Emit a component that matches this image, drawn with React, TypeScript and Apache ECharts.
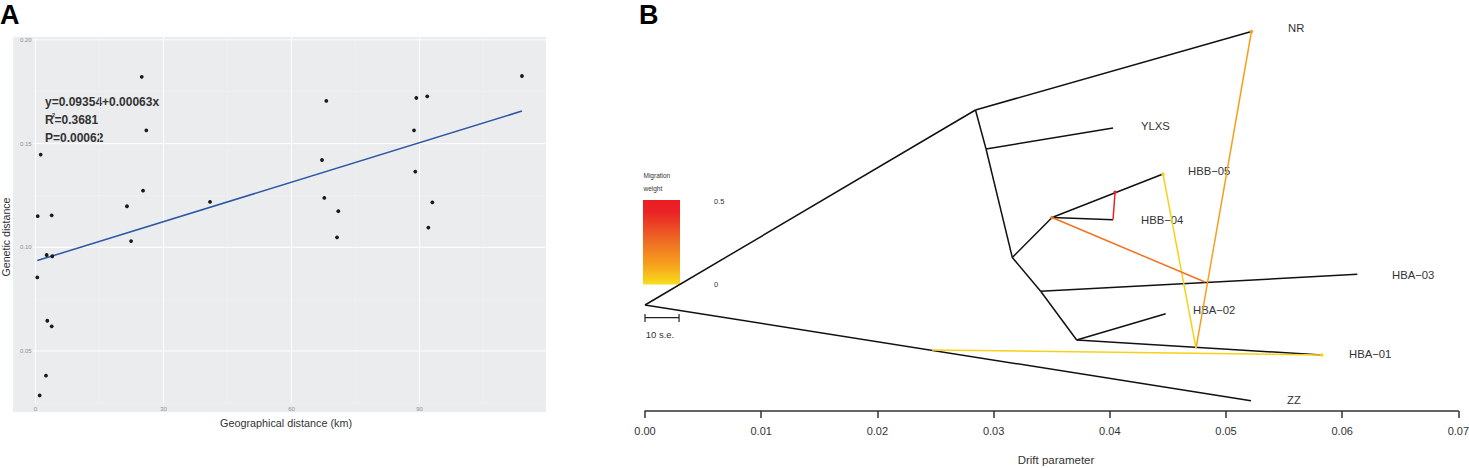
import { useEffect, useRef } from "react";
import * as echarts from "echarts";

// panel A: geographical vs genetic distance
const geoKm = [
  24.9, 25.97, 1.22, 25.2, 21.44, 40.9, 0.52, 3.8, 22.4, 2.62, 3.94, 0.42, 2.77, 3.8,
  2.46, 0.98, 114.0, 68.15, 89.24, 91.8, 88.7, 67.14, 89.0, 67.68, 70.96, 93.0, 92.06, 70.66,
];
const geneticDist = [
  0.1822, 0.1564, 0.1447, 0.1273, 0.1198, 0.1219, 0.115, 0.1154, 0.103, 0.0963, 0.0957, 0.0855, 0.0646, 0.0619,
  0.0381, 0.0286, 0.1826, 0.1706, 0.172, 0.1728, 0.1564, 0.1421, 0.1365, 0.1238, 0.1174, 0.1217, 0.1095, 0.1048,
];
const fitLine = [
  [0.42, 0.0936],
  [114, 0.1657],
];
const xTicksA = [0, 30, 60, 90];
const xMinorA = [15, 45, 75, 105];
const yTicksA = [0.05, 0.1, 0.15, 0.2];
const yMinorA = [0.025, 0.075, 0.125, 0.175];
const xRangeA = [-5.27, 119.63];
const yRangeA = [0.0206, 0.2014];
// gridlines stop short of the tick labels that sit inside the panel
const gridStartX = -0.7;
const gridStartY = 0.0249;

// panel B: tree nodes as [drift, vertical position]
const nodes: Record<string, number[]> = {
  root: [0, 305],
  a: [0.02844, 110],
  b: [0.02935, 149],
  c: [0.03161, 257.5],
  d: [0.03503, 217.5],
  e: [0.03405, 291.3],
  f: [0.03715, 340],
  NR: [0.05219, 31.5],
  YLXS: [0.04028, 128],
  HBB05: [0.04458, 174],
  HBB04: [0.04028, 219.7],
  HBA03: [0.0613, 274.3],
  HBA02: [0.04481, 313.7],
  HBA01: [0.05824, 355],
  ZZ: [0.05215, 400.7],
};
const edges = [
  ["root", "a"],
  ["a", "NR"],
  ["a", "b"],
  ["b", "YLXS"],
  ["b", "c"],
  ["c", "d"],
  ["d", "HBB05"],
  ["d", "HBB04"],
  ["c", "e"],
  ["e", "HBA03"],
  ["e", "f"],
  ["f", "HBA02"],
  ["f", "HBA01"],
  ["root", "ZZ"],
];
const migrations = [
  { from: [0.04742, 348.3], to: nodes.NR, color: "#f5a01c" },
  { from: [0.04742, 348.3], to: nodes.HBB05, color: "#f7d117" },
  { from: [0.04819, 282], to: nodes.d, color: "#f2711f" },
  { from: nodes.HBB04, to: [0.04045, 192.3], color: "#ec2027" },
  { from: [0.0247, 350], to: nodes.HBA01, color: "#f7d117" },
];
const scaleBar = [
  [[0, 317.7], [0.00293, 317.7]],
  [[0, 314], [0, 322]],
  [[0.00293, 314], [0.00293, 322]],
];
const driftTicks = [0, 0.07];

const font = "'Liberation Sans', Arial, sans-serif";

const plainText = (text: string, x: number, y: number, fontSize: number, extra: any = {}) => ({
  type: "text",
  x,
  y,
  style: { text, fontSize, fontFamily: font, fill: "#333", textVerticalAlign: "middle", ...extra },
});

const tipLabels = [
  ["NR", 1288, 28],
  ["YLXS", 1141, 126],
  ["HBB\u221205", 1188, 171],
  ["HBB\u221204", 1141, 220],
  ["HBA\u221203", 1392, 274.5],
  ["HBA\u221202", 1193, 310],
  ["HBA\u221201", 1349, 354],
  ["ZZ", 1287, 400],
] as [string, number, number][];

const guide = (points: number[][], color: string, width: number, xAxisIndex = 0, z = 1) => ({
  type: "line",
  xAxisIndex,
  yAxisIndex: xAxisIndex,
  data: points,
  symbol: "none",
  silent: true,
  z,
  lineStyle: { color, width },
});

export default function App() {
  const chartEl = useRef<HTMLDivElement>(null);

  useEffect(() => {
    if (!chartEl.current) return;
    const chart = echarts.init(chartEl.current, null, { renderer: "svg" });

    chart.setOption({
      animation: false,
      backgroundColor: "#fff",
      textStyle: { fontFamily: font },
      grid: [
        { left: 13, top: 37, width: 533, height: 375, show: true, backgroundColor: "#ebecee", borderWidth: 0, outerBoundsMode: "none" },
        { left: 645, top: 0, width: 813.4, height: 411, outerBoundsMode: "none" },
      ],
      xAxis: [
        {
          type: "value",
          gridIndex: 0,
          min: xRangeA[0],
          max: xRangeA[1],
          axisLine: { show: false },
          axisTick: { show: false },
          splitLine: { show: false },
          axisLabel: {
            inside: true,
            margin: 0,
            customValues: xTicksA,
            fontSize: 6,
            color: "#8f8f8f",
            showMinLabel: true,
            showMaxLabel: true,
          },
        },
        {
          type: "value",
          gridIndex: 1,
          min: driftTicks[0],
          max: driftTicks[1],
          interval: 0.01,
          axisLine: { show: true, onZero: false, lineStyle: { color: "#333", width: 1.5 } },
          axisTick: { show: true, length: 7, lineStyle: { color: "#333", width: 1.5 } },
          splitLine: { show: false },
          axisLabel: {
            margin: 14,
            fontSize: 11,
            color: "#333",
            formatter: (v: number) => v.toFixed(2),
            showMinLabel: true,
            showMaxLabel: true,
          },
        },
      ],
      yAxis: [
        {
          type: "value",
          gridIndex: 0,
          min: yRangeA[0],
          max: yRangeA[1],
          axisLine: { show: false },
          axisTick: { show: false },
          splitLine: { show: false },
          axisLabel: {
            inside: true,
            margin: 7,
            customValues: yTicksA,
            fontSize: 6,
            color: "#8f8f8f",
            formatter: (v: number) => v.toFixed(2),
          },
        },
        {
          type: "value",
          gridIndex: 1,
          min: 0,
          max: 411,
          inverse: true,
          show: false,
        },
      ],
      series: [
        ...xMinorA.map((v) => guide([[v, gridStartY], [v, yRangeA[1]]], "#f0f1f2", 0.7)),
        ...yMinorA.map((v) => guide([[gridStartX, v], [xRangeA[1], v]], "#f0f1f2", 0.7)),
        ...xTicksA.map((v) => guide([[v, gridStartY], [v, yRangeA[1]]], "#ffffff", 1)),
        ...yTicksA.map((v) => guide([[gridStartX, v], [xRangeA[1], v]], "#ffffff", 1)),
        guide(fitLine, "#2b55a5", 1.5, 0, 3),
        {
          type: "scatter",
          xAxisIndex: 0,
          yAxisIndex: 0,
          data: geoKm.map((x, i) => [x, geneticDist[i]]),
          symbolSize: 3.8,
          itemStyle: { color: "#1a1a1a", opacity: 1 },
          z: 4,
        },
        ...edges.map(([from, to]) => guide([nodes[from], nodes[to]], "#111", 1.5, 1, 2)),
        ...scaleBar.map((seg) => guide(seg, "#222", 1.2, 1, 2)),
        ...migrations.map((m) => ({
          type: "line",
          xAxisIndex: 1,
          yAxisIndex: 1,
          silent: true,
          z: 3,
          data: [
            { value: m.from, symbol: "none" },
            { value: m.to, symbol: "circle", symbolSize: 3.5 },
          ],
          showSymbol: true,
          showAllSymbol: true,
          itemStyle: { color: m.color },
          lineStyle: { color: m.color, width: 1.5 },
        })),
      ],
      graphic: [
        plainText("A", 0, 15, 27, { fontWeight: "bold", fill: "#000" }),
        plainText("B", 639, 15, 27, { fontWeight: "bold", fill: "#000" }),
        plainText("y=0.09354+0.00063x", 45, 102, 12, { fontWeight: "bold" }),
        plainText("R", 45, 120, 12, { fontWeight: "bold" }),
        plainText("2", 52, 115, 5.5, { fontWeight: "bold" }),
        plainText("=0.3681", 54.5, 120, 12, { fontWeight: "bold" }),
        plainText("P=0.00062", 45, 138, 12, { fontWeight: "bold" }),
        plainText("Geographical distance (km)", 286, 423, 10.8, { textAlign: "center" }),
        { ...plainText("Genetic distance", 6, 237, 10.6, { textAlign: "center" }), rotation: Math.PI / 2 },
        plainText("Drift parameter", 1056, 460, 11.5, { textAlign: "center" }),
        plainText("Migration", 643.5, 175, 6.5),
        plainText("weight", 643.5, 188, 6.5),
        plainText("0.5", 714, 201, 7.5),
        plainText("0", 714, 284, 7.5),
        plainText("10 s.e.", 660, 334.7, 9.5, { textAlign: "center" }),
        {
          type: "rect",
          shape: { x: 643, y: 200, width: 37, height: 84.5 },
          style: {
            fill: new echarts.graphic.LinearGradient(0, 0, 0, 1, [
              { offset: 0, color: "#ed1c24" },
              { offset: 0.15, color: "#ea2426" },
              { offset: 0.5, color: "#ef6f23" },
              { offset: 0.8, color: "#f7a81c" },
              { offset: 1, color: "#f6df1c" },
            ]),
          },
        },
        ...tipLabels.map(([text, x, y]) => plainText(text, x, y, 11.3)),
      ],
    });

    return () => chart.dispose();
  }, []);

  return <div ref={chartEl} style={{ position: "absolute", left: 0, top: 0, width: 1469, height: 468 }} />;
}
